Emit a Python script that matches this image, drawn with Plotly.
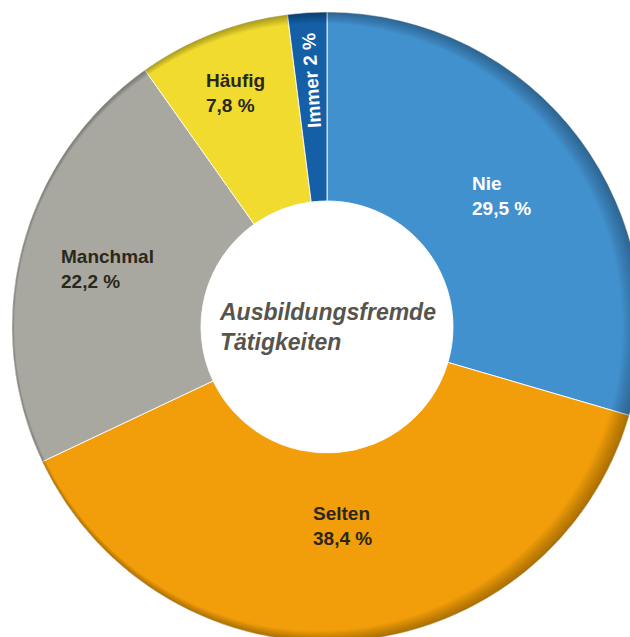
import math
import plotly.graph_objects as go

# ---- data ----
categories = ["Nie", "Selten", "Manchmal", "Häufig", "Immer"]
shares = [29.5, 38.4, 22.2, 7.8, 2.0]
share_labels = ["29,5 %", "38,4 %", "22,2 %", "7,8 %", "2 %"]
center_title = ["Ausbildungsfremde", "Tätigkeiten"]

# ---- style ----
colors = ["#4291CF", "#F29E0A", "#A8A8A1", "#F0DB2E", "#145FA6"]
label_colors = ["#FFFFFF", "#2B2719", "#2B2719", "#2B2719", "#FFFFFF"]
label_radius_px = [218, 200, 227, 251, 247]
FONT = "Liberation Sans, Arial, sans-serif"

PAD = 12          # pie starts 12 px from top/left of the page
DIAM = 630        # pie diameter in px
W = H = PAD + DIAM
HOLE = 0.4

fig = go.Figure()
fig.add_trace(go.Pie(
    labels=categories, values=shares, hole=HOLE, sort=False,
    direction="clockwise", rotation=0,
    marker=dict(colors=colors, line=dict(color="rgba(255,255,255,0.85)", width=1)),
    textinfo="none", hoverinfo="label+percent", showlegend=False,
    domain=dict(x=[0, 1], y=[0, 1]),
))


# soft darkening of the outer rim: stacked translucent crescents (thicker on the right)
def circle_path(cx, cy, r, n=240):
    pts = [(cx + r * math.cos(2 * math.pi * j / n), cy + r * math.sin(2 * math.pi * j / n))
           for j in range(n)]
    return "M " + " L ".join(f"{x:.5f},{y:.5f}" for x, y in pts) + " Z"


shapes = []
n_layers = 10
for k in range(1, n_layers + 1):
    s = k / n_layers
    dx = 0.0135 * s
    tl = 0.004 * s
    ri = 0.5 - dx - tl
    path = circle_path(0.5, 0.5, 0.5) + " " + circle_path(0.5 - dx, 0.5, ri)
    shapes.append(dict(
        type="path", xref="paper", yref="paper", path=path,
        fillcolor="rgba(0,0,0,0.03)", fillrule="evenodd",
        line=dict(width=0), layer="above",
    ))

annotations = []
total = sum(shares)
cum = 0.0
for i, (cat, lab) in enumerate(zip(categories, share_labels)):
    mid = (cum + shares[i] / 2) / total * 2 * math.pi
    cum += shares[i]
    r = label_radius_px[i] / DIAM
    x = 0.5 + r * math.sin(mid)
    y = 0.5 + r * math.cos(mid)
    if shares[i] < 5:
        annotations.append(dict(
            x=x, y=y, xref="paper", yref="paper", showarrow=False,
            text=f"{cat} {lab}", textangle=math.degrees(mid) - 450,
            font=dict(family=FONT, size=19, color=label_colors[i], weight="bold"),
            xanchor="center", yanchor="middle",
        ))
    else:
        annotations.append(dict(
            x=x, y=y, xref="paper", yref="paper", showarrow=False,
            text=f"{cat}<br>{lab}", align="left",
            font=dict(family=FONT, size=19, color=label_colors[i], weight="bold"),
            xanchor="center", yanchor="middle",
        ))

annotations.append(dict(
    x=0.5, y=0.5, xref="paper", yref="paper", showarrow=False,
    text="<br>".join(center_title), align="left",
    font=dict(family=FONT, size=23, color="#57544E", weight="bold", style="italic"),
    xanchor="center", yanchor="middle",
))

fig.update_layout(
    width=W, height=H,
    margin=dict(l=PAD, t=PAD, r=0, b=0),
    paper_bgcolor="white", plot_bgcolor="white",
    annotations=annotations,
    shapes=shapes,
    showlegend=False,
)

fig.write_html(
    "out.html",
    config={"displayModeBar": False},
    post_script="document.body.style.margin='0';document.documentElement.style.overflow='hidden';document.body.style.overflow='hidden';",
)
